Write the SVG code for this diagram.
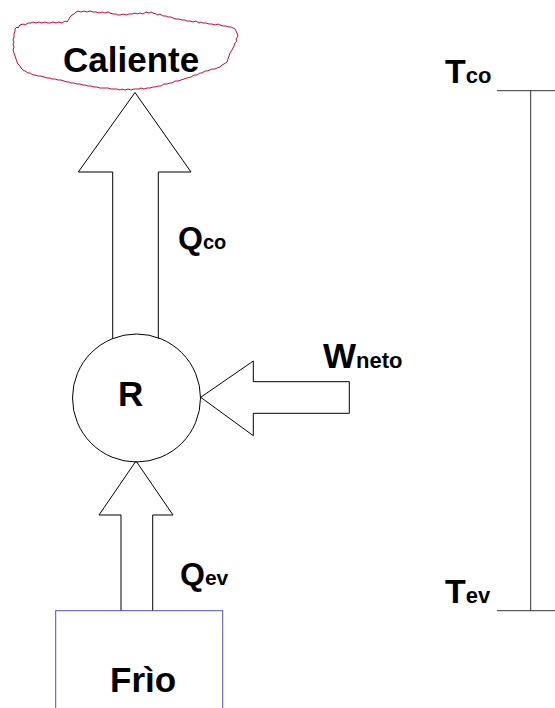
<svg xmlns="http://www.w3.org/2000/svg" width="555" height="708" viewBox="0 0 555 708">
  <style>
    .lbl { font-family: "Liberation Sans", Arial, sans-serif; font-weight: bold; fill: #000; }
    .arrow { fill: #fff; stroke: #000; stroke-width: 1; }
    .scale { stroke: #333; stroke-width: 1; fill: none; }
    .cloud { fill: none; stroke: #c8102e; stroke-width: 1; stroke-linejoin: miter; }
  </style>
  <rect width="555" height="708" fill="#fff"/>

  <g id="connectors">
    <path id="arrow-qco" class="arrow" d="M112.7,338.5 L112.7,172 L78.3,172 L135,92.5 L191,172 L158.3,172 L158.3,338.5"/>
    <path id="arrow-wneto" class="arrow" d="M200.7,397.3 L253.3,361 L253.3,381.7 L349.3,381.7 L349.3,413.3 L253.3,413.3 L253.3,435.7 Z"/>
    <path id="arrow-qev" class="arrow" d="M121,611 L121,515 L99,515 L136,461 L173,515 L152.7,515 L152.7,611"/>
  </g>

  <g id="node-caliente">
    <path class="cloud" d="M15,29 L17,27 L18,28 L20,25 L23,24 L25,25 L28,23 L31,23 L33,22 L36,23 L39,22 L42,23 L45,22 L48,23 L50,23 L53,22 L56,23 L59,22 L62,23 L65,21 L67,22 L69,19 L70,17 L72,15 L74,14 L76,12 L78,11 L81,12 L84,11 L87,12 L90,11 L93,12 L96,12 L99,13 L102,12 L105,13 L108,12 L110,13 L113,14 L116,14 L118,15 L120,15 L123,14 L126,15 L129,14 L132,14 L135,13 L137,14 L140,13 L143,14 L146,12 L149,13 L151,12 L153,13 L156,14 L158,15 L160,14 L163,16 L166,16 L168,17 L171,17 L173,18 L176,19 L179,19 L182,20 L185,20 L187,21 L190,21 L193,22 L196,21 L199,23 L201,22 L203,23 L206,23 L209,24 L212,24 L215,25 L218,24 L220,25 L223,26 L226,26 L229,27 L231,27 L233,28 L235,29 L236,31 L237,33 L238,36 L236,39 L237,41 L235,43 L234,46 L233,48 L232,50 L230,53 L229,56 L228,59 L227,62 L224,64 L222,65 L220,67 L217,68 L215,69 L212,69 L210,70 L207,71 L205,71 L202,73 L200,73 L197,75 L194,75 L191,77 L187,78 L184,79 L181,80 L178,81 L175,81 L172,83 L170,83 L167,84 L164,84 L161,86 L158,86 L155,87 L153,87 L150,88 L147,88 L144,89 L141,88 L139,89 L137,89 L134,89 L131,90 L128,89 L125,90 L122,89 L120,90 L117,89 L114,89 L111,89 L108,88 L105,88 L102,88 L100,88 L97,87 L94,87 L91,86 L88,86 L85,85 L83,85 L80,84 L77,84 L74,83 L71,83 L69,82 L67,82 L64,81 L61,80 L58,80 L55,79 L52,79 L50,78 L47,78 L44,77 L41,76 L38,76 L35,75 L33,75 L30,73 L28,73 L25,71 L23,70 L21,68 L20,66 L18,64 L17,62 L16,59 L15,56 L14,53 L13,50 L14,47 L13,44 L14,42 L13,40 L14,37 L14,34 L15,31 Z"/>
    <text class="lbl" x="63" y="72" font-size="35">Caliente</text>
  </g>

  <g id="node-R">
    <circle cx="136.5" cy="398" r="64" fill="none" stroke="#000" stroke-width="1"/>
    <text class="lbl" x="118" y="406" font-size="35">R</text>
  </g>

  <g id="node-frio">
    <rect x="55.7" y="610.7" width="167" height="110" fill="none" stroke="#5050b4" stroke-width="1"/>
    <text class="lbl" x="110" y="692" font-size="35">Frìo</text>
  </g>

  <g id="labels">
    <text class="lbl" x="178" y="249" font-size="32">Q<tspan font-size="20">co</tspan></text>
    <text class="lbl" x="323" y="368" font-size="35">W<tspan font-size="22">neto</tspan></text>
    <text class="lbl" x="180" y="585" font-size="32">Q<tspan font-size="21">ev</tspan></text>
  </g>

  <g id="scale">
    <line class="scale" x1="497" y1="90.7" x2="555" y2="90.7"/>
    <line class="scale" x1="530.7" y1="90.7" x2="530.7" y2="610.7"/>
    <line class="scale" x1="497" y1="610.7" x2="555" y2="610.7"/>
    <text class="lbl" x="445" y="83" font-size="34">T<tspan font-size="22">co</tspan></text>
    <text class="lbl" x="445" y="603" font-size="34">T<tspan font-size="22">ev</tspan></text>
  </g>
</svg>
